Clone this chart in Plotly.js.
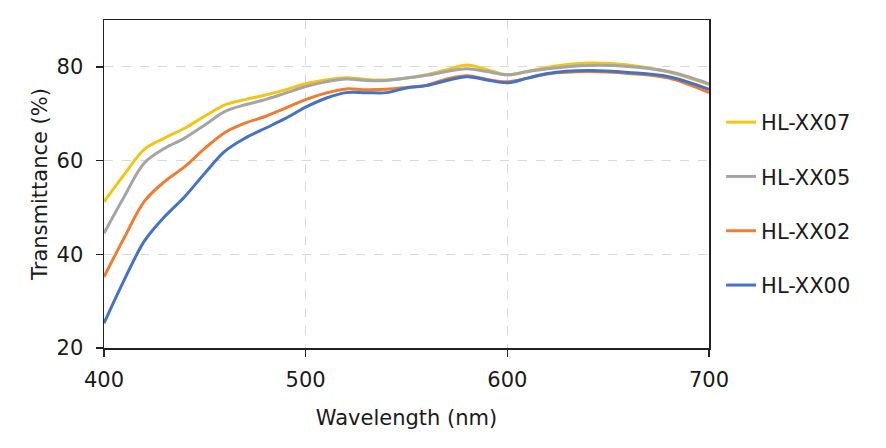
<!DOCTYPE html>
<html>
<head>
<meta charset="utf-8">
<script src="https://cdn.plot.ly/plotly-3.0.1.min.js"></script>
<style>html,body{margin:0;padding:0;background:#fff;}#chart{width:886px;height:448px;}</style>
</head>
<body>
<div id="chart"></div>
<script>
const wavelength = [400,410,420,430,440,450,460,470,480,490,500,510,520,530,540,550,560,570,580,590,600,610,620,640,660,680,700];
const hlxx07 = [51.2,57.0,62.4,64.8,66.9,69.5,71.9,73.0,74.0,75.1,76.4,77.2,77.7,77.3,77.2,77.6,78.3,79.4,80.4,79.4,78.3,79.0,79.9,80.8,80.4,78.9,76.2];
const hlxx05 = [44.5,52.3,59.5,62.6,64.8,67.6,70.5,71.9,73.0,74.4,75.8,76.8,77.4,77.1,77.1,77.6,78.2,79.0,79.6,79.0,78.3,79.0,79.6,80.3,80.1,79.0,76.4];
const hlxx02 = [35.2,43.5,51.3,55.5,58.7,62.6,66.0,68.0,69.4,71.2,73.0,74.4,75.3,75.1,75.2,75.6,76.1,77.4,78.1,77.3,76.8,77.6,78.5,79.0,78.6,77.6,74.5];
const hlxx00 = [25.3,34.5,42.8,48.0,52.3,57.3,62.0,64.8,66.9,69.0,71.4,73.3,74.5,74.5,74.5,75.5,76.0,77.1,77.9,77.2,76.6,77.6,78.6,79.2,78.8,77.9,75.2];
const names = ["HL-XX07","HL-XX05","HL-XX02","HL-XX00"];
const colors = ["#F5C516","#A5A5A5","#ED7D31","#4472C4"];
const series = [hlxx07, hlxx05, hlxx02, hlxx00];

const traces = series.map((s,i)=>({
  x: wavelength, y: s, type:'scatter', mode:'lines', name:names[i],
  legendgroup:'g'+i,
  line:{color:colors[i], width:3, shape:'spline', smoothing:1}
}));

const fam = '"DejaVu Sans", Verdana, sans-serif';
const layout = {
  width:886, height:448,
  margin:{l:104, r:177, t:20, b:100},
  paper_bgcolor:'#fff', plot_bgcolor:'#fff',
  font: {family:fam, size:21, color:'#1a1a1a'},
  showlegend:true,
  legend:{x:1.02, xanchor:'left', y:0.75, yanchor:'top', traceorder:'grouped', tracegroupgap:24,
          font:{family:fam, size:21, color:'#1a1a1a'}, bgcolor:'rgba(0,0,0,0)'},
  xaxis:{range:[400,700], tickvals:[400,500,600,700], ticks:'outside', ticklen:7, tickwidth:1.5, tickcolor:'#222',
         ticklabelstandoff:5,
         showline:true, linecolor:'#222', linewidth:1.5, mirror:true,
         showgrid:true, gridcolor:'#d9d9d9', griddash:'dash', gridwidth:1, zeroline:false,
         title:{text:'Wavelength (nm)', font:{size:21}, standoff:19}, tickfont:{size:21}},
  yaxis:{range:[20,90], tickvals:[20,40,60,80], ticks:'outside', ticklen:7, tickwidth:1.5, tickcolor:'#222',
         ticklabelstandoff:8,
         showline:true, linecolor:'#222', linewidth:1.5, mirror:true,
         showgrid:true, gridcolor:'#d9d9d9', griddash:'dash', gridwidth:1, zeroline:false,
         title:{text:'Transmittance (%)', font:{size:21}, standoff:3}, tickfont:{size:21}}
};
Plotly.newPlot('chart', traces, layout, {displayModeBar:false, staticPlot:true});
</script>
</body>
</html>
